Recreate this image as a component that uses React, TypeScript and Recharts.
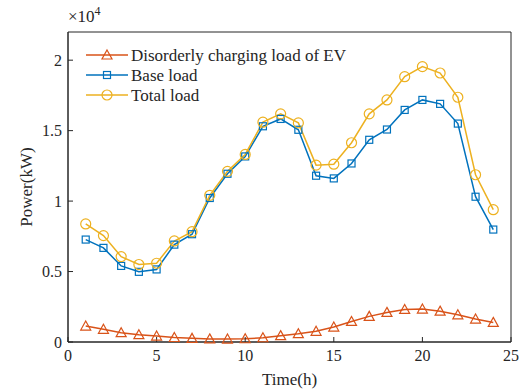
import React from "react"
import { LineChart, Line, XAxis, YAxis, ReferenceArea } from "recharts"

// hours of the day
const hours = [1, 2, 3, 4, 5, 6, 7, 8, 9, 10, 11, 12, 13, 14, 15, 16, 17, 18, 19, 20, 21, 22, 23, 24]

// power in kW
const evLoad = [1130, 900, 660, 520, 420, 320, 260, 220, 210, 230, 300, 450, 590, 760, 1060, 1460, 1820, 2100, 2310, 2340, 2190, 1930, 1630, 1390]
const baseLoad = [7270, 6680, 5400, 4980, 5150, 6910, 7650, 10220, 11940, 13170, 15310, 15830, 15060, 11800, 11610, 12670, 14350, 15080, 16470, 17180, 16900, 15500, 10310, 7980]
const totalLoad = [8380, 7550, 6060, 5500, 5590, 7170, 7830, 10410, 12110, 13310, 15600, 16190, 15550, 12550, 12620, 14140, 16190, 17180, 18830, 19540, 19090, 17370, 11870, 9390]

const xTicks = [0, 5, 10, 15, 20, 25]
const yTicks = [0, 5000, 10000, 15000, 20000]

const data = hours.map((h, i) => ({ h, ev: evLoad[i], base: baseLoad[i], total: totalLoad[i] }))

const RED = "#D95319"
const BLUE = "#0072BD"
const YELLOW = "#EDB120"
const INK = "#262626"
const FONT = "'Liberation Serif', 'Times New Roman', serif"

function Triangle({ cx, cy, color }: any) {
  return <path d={`M${cx},${cy - 5} L${cx + 5},${cy + 4} L${cx - 5},${cy + 4} Z`} fill="none" stroke={color} strokeWidth={1.2} />
}
function Square({ cx, cy, color }: any) {
  return <rect x={cx - 3.5} y={cy - 3.5} width={7} height={7} fill="none" stroke={color} strokeWidth={1.2} />
}
function Circle({ cx, cy, color }: any) {
  return <circle cx={cx} cy={cy} r={5} fill="none" stroke={color} strokeWidth={1.2} />
}

const legendItems = [
  { name: "Disorderly charging load of EV", color: RED, Marker: Triangle },
  { name: "Base load", color: BLUE, Marker: Square },
  { name: "Total load", color: YELLOW, Marker: Circle },
]

// legend drawn outside recharts so it doesn't eat plot space
function LegendBox() {
  return (
    <svg width={300} height={66} style={{ position: "absolute", left: 86, top: 45 }}>
      {legendItems.map((it, i) => {
        const y = 10 + i * 20
        return (
          <g key={it.name}>
            <line x1={0} x2={42} y1={y} y2={y} stroke={it.color} strokeWidth={1.5} />
            <it.Marker cx={21} cy={y} color={it.color} />
            <text x={45} y={y + 5.5} fontSize={17} fill={INK} fontFamily={FONT}>{it.name}</text>
          </g>
        )
      })}
    </svg>
  )
}

export default function App() {
  const tickStyle = { fontSize: 16, fill: INK, fontFamily: FONT }
  return (
    <div style={{ position: "absolute", left: 0, top: 0, width: 528, height: 392, background: "#fff", fontFamily: FONT }}>
      <LineChart width={528} height={392} data={data} margin={{ top: 32, right: 17, left: 0, bottom: 0 }}>
        <XAxis dataKey="h" type="number" domain={[0, 25]} ticks={xTicks} tick={tickStyle}
          stroke={INK} tickSize={-5} tickMargin={13} height={50}
          label={{ value: "Time(h)", position: "insideBottom", offset: 7, fontSize: 17, fill: INK, fontFamily: FONT }} />
        <YAxis type="number" domain={[0, 22000]} ticks={yTicks} tickFormatter={(v: number) => String(v / 10000)}
          tick={tickStyle} stroke={INK} tickSize={-5} tickMargin={11} width={68}
          label={{ value: "Power(kW)", angle: -90, position: "insideLeft", offset: 26, fontSize: 17, fill: INK, fontFamily: FONT, style: { textAnchor: "middle" } }} />
        {/* axes box */}
        <ReferenceArea x1={0} x2={25} y1={0} y2={22000} fill="none" fillOpacity={0} stroke={INK} strokeWidth={1} strokeOpacity={1} ifOverflow="visible" />
        <Line dataKey="ev" stroke={RED} strokeWidth={1.5} isAnimationActive={false}
          dot={(p: any) => <Triangle key={"t" + p.index} cx={p.cx} cy={p.cy} color={RED} />} />
        <Line dataKey="base" stroke={BLUE} strokeWidth={1.5} isAnimationActive={false}
          dot={(p: any) => <Square key={"s" + p.index} cx={p.cx} cy={p.cy} color={BLUE} />} />
        <Line dataKey="total" stroke={YELLOW} strokeWidth={1.5} isAnimationActive={false}
          dot={(p: any) => <Circle key={"c" + p.index} cx={p.cx} cy={p.cy} color={YELLOW} />} />
      </LineChart>
      <LegendBox />
      <div style={{ position: "absolute", left: 68, top: 4, fontSize: 17, color: INK }}>
        ×10<sup style={{ fontSize: 12 }}>4</sup>
      </div>
    </div>
  )
}
